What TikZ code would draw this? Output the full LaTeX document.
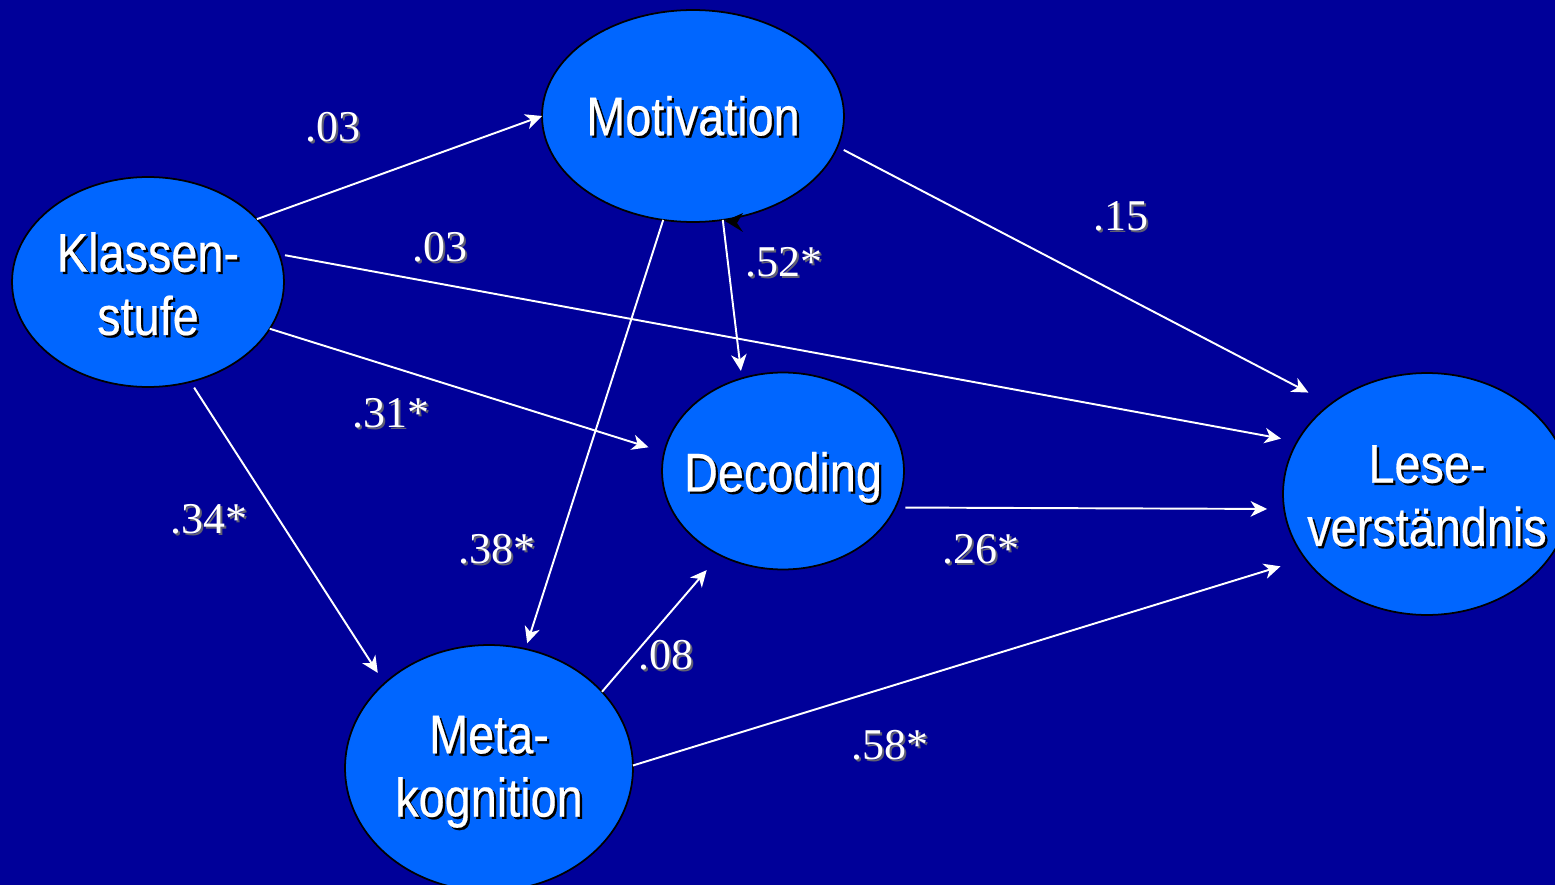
\documentclass[tikz,border=0pt]{standalone}
\usepackage{fontspec}
\setmainfont{Liberation Serif}
\newfontfamily\bubblefont[FakeStretch=0.86,FakeBold=0.4]{Liberation Sans}
\usetikzlibrary{arrows.meta,shapes.geometric}
\definecolor{slidebg}{RGB}{0,0,153}
\definecolor{bubblefill}{RGB}{0,102,255}
\definecolor{numshade}{RGB}{95,95,115}
\newcommand{\shtxt}[2]{\rlap{\kern1.3pt\raisebox{-1.3pt}{\color{#1}#2}}#2}
\tikzset{
  bubble/.style={ellipse, draw=black, line width=1pt, fill=bubblefill, inner sep=0pt, outer sep=0pt},
  btext/.style={text=white, align=center, inner sep=0pt, font=\bubblefont\fontsize{31}{36}\selectfont},
  coef/.style={text=white, inner sep=0pt, font=\fontsize{25}{30}\selectfont},
  link/.style={->, draw=white, line width=1.1pt},
}
\begin{document}
\begin{tikzpicture}[x=0.02cm, y=-0.02cm, >={Stealth[length=0.33cm,width=0.31cm,inset=0.1cm]}]
      \fill[slidebg] (0,0) rectangle (1555,885);
      \useasboundingbox (0,0) rectangle (1555,885);
      \clip (0,0) rectangle (1555,885);
      % variables
      \node[bubble, minimum width=5.44cm, minimum height=4.2cm,
        label={[btext, name=KSt, yshift=-0.06cm]center:{\shtxt{black}{Klassen-}\\\shtxt{black}{stufe}}}] (KS) at (148, 282) {};
      \node[bubble, minimum width=6.04cm, minimum height=4.24cm,
        label={[btext, name=MOt, yshift=-0.02cm]center:{\shtxt{black}{Motivation}}}] (MO) at (693, 116) {};
      \node[bubble, minimum width=4.84cm, minimum height=3.94cm,
        label={[btext, name=DEt, yshift=-0.15cm]center:{\shtxt{black}{Decoding}}}] (DE) at (783, 471) {};
      \node[bubble, minimum width=5.76cm, minimum height=4.84cm,
        label={[btext, name=LVt, yshift=-0.06cm]center:{\shtxt{black}{Lese-}\\\shtxt{black}{verständnis}}}] (LV) at (1427, 494) {};
      \node[bubble, minimum width=5.76cm, minimum height=4.92cm,
        label={[btext, name=MKt, yshift=-0.1cm]center:{\shtxt{black}{Meta-}\\\shtxt{black}{kognition}}}] (MK) at (489, 768) {};
      % paths
      \draw[link] (KS.30) to (MO.180);
      \draw[link, shorten <=0.12cm, shorten >=0.33cm] (KS.12) to (LV.158);
      \draw[link, shorten >=0.33cm] (KS.339) to (DE.171);
      \draw[link, shorten <=0.14cm, shorten >=0.25cm] (KS.293) to (MK.141);
      \draw[link, shorten <=0.14cm, shorten >=0.5cm] (MO.348) to (LV.137);
      \draw[link, shorten >=0.15cm] (MO.286) to (DE.114);
      \draw[link, shorten >=0.12cm] (MO.254) to (MK.73);
      \draw[link, shorten <=0.2cm, shorten >=0.34cm] (DE.342) to (LV.186);
      \draw[link, shorten >=0.4cm] (MK.34) to (DE.233);
      \draw[link, shorten >=0.52cm] (MK.1) to (LV.208);
      \fill[black] (725, 221) -- (743, 213) -- (737, 223) -- (743, 232) -- cycle;
      % coefficients
      \node[coef] (C1) at (333, 128) {\shtxt{numshade}{.03}};
      \node[coef] (C2) at (440, 248) {\shtxt{numshade}{.03}};
      \node[coef] (C3) at (391, 414) {\shtxt{numshade}{.31*}};
      \node[coef] (C4) at (209, 520) {\shtxt{numshade}{.34*}};
      \node[coef] (C5) at (1121, 217) {\shtxt{numshade}{.15}};
      \node[coef] (C6) at (784, 263) {\shtxt{numshade}{.52*}};
      \node[coef] (C7) at (497, 550) {\shtxt{numshade}{.38*}};
      \node[coef] (C8) at (981, 550) {\shtxt{numshade}{.26*}};
      \node[coef] (C9) at (666, 656) {\shtxt{numshade}{.08}};
      \node[coef] (C10) at (890, 746) {\shtxt{numshade}{.58*}};
    \end{tikzpicture}
\end{document}
